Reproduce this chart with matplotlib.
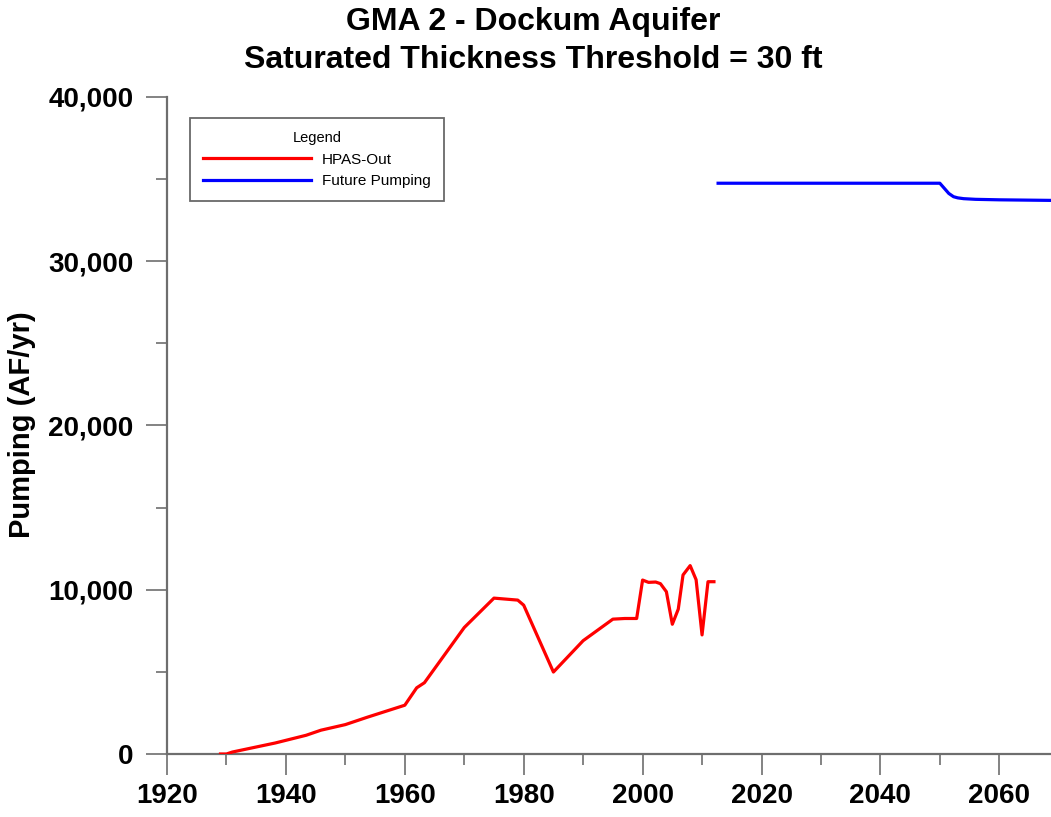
import matplotlib
matplotlib.use("Agg")
import matplotlib.pyplot as plt
from matplotlib.ticker import FuncFormatter, MultipleLocator

plt.rcParams["font.family"] = ["Liberation Sans", "DejaVu Sans"]

# HPAS-Out (historical pumping)
hist_years = [1929, 1930, 1931, 1938.2, 1943.4, 1945.9, 1950, 1953.7, 1960, 1962, 1963.3,
              1970, 1975, 1979, 1980, 1985, 1990, 1995, 1997, 1999, 2000, 2001, 2002.2,
              2003, 2004, 2005, 2006, 2006.8, 2008, 2009, 2010, 2011, 2012]
hist_pumping = [0, 0, 120, 670, 1140, 1450, 1790, 2240, 2970, 4030, 4340,
                7700, 9490, 9370, 9060, 4990, 6900, 8210, 8250, 8250, 10590, 10450, 10470,
                10370, 9880, 7900, 8820, 10900, 11470, 10610, 7250, 10490, 10490]

# Future pumping
future_years = [2012.7, 2050, 2050.8, 2051.5, 2052.3, 2053, 2054, 2056, 2060, 2070]
future_pumping = [34750, 34750, 34420, 34130, 33930, 33860, 33810, 33770, 33740, 33700]

x_ticks = list(range(1920, 2061, 20))
y_ticks = [0, 10000, 20000, 30000, 40000]

fig = plt.figure(figsize=(10.51, 8.17), dpi=100)
ax = fig.add_axes([167 / 1051, 63 / 817, 891.75 / 1051, 657 / 817])

ax.plot(hist_years, hist_pumping, color="#ff0000", lw=2.3, label="HPAS-Out",
        solid_joinstyle="round")
ax.plot(future_years, future_pumping, color="#0000ff", lw=2.3, label="Future Pumping",
        solid_joinstyle="round")

ax.set_xlim(1920, 2070)
ax.set_ylim(0, 40000)
ax.set_xticks(x_ticks)
ax.set_yticks(y_ticks)
ax.xaxis.set_minor_locator(MultipleLocator(10))
ax.yaxis.set_minor_locator(MultipleLocator(5000))
ax.yaxis.set_major_formatter(FuncFormatter(lambda v, p: f"{int(v):,}"))

axis_color = "#6e6e6e"
for side in ["top", "right"]:
    ax.spines[side].set_visible(False)
for side in ["left", "bottom"]:
    ax.spines[side].set_color(axis_color)
    ax.spines[side].set_linewidth(1.6)
    ax.spines[side].set_zorder(1)

ax.tick_params(axis="both", which="major", direction="out", length=15, width=1.2,
               color=axis_color, labelsize=20)
ax.tick_params(axis="both", which="minor", direction="out", length=8, width=1.2,
               color=axis_color)
ax.tick_params(axis="y", which="major", pad=9)
ax.tick_params(axis="x", which="major", pad=6)
for lab in ax.get_xticklabels() + ax.get_yticklabels():
    lab.set_fontweight("bold")

fig.text(22 / 1051, 1 - 425 / 817, "Pumping (AF/yr)", rotation=90, ha="center",
         va="center", fontsize=21, fontweight="bold")
fig.text(533 / 1051, 1 - 22 / 817, "GMA 2 - Dockum Aquifer", ha="center", va="center",
         fontsize=23, fontweight="bold")
fig.text(533 / 1051, 1 - 60 / 817, "Saturated Thickness Threshold = 30 ft", ha="center",
         va="center", fontsize=23, fontweight="bold")

leg = ax.legend(loc="upper left", bbox_to_anchor=((190 - 167) / 891.75, (754 - 118) / 657),
                title="Legend", fontsize=11, title_fontsize=10.5, frameon=True,
                fancybox=False, handlelength=7.1, handletextpad=0.7, labelspacing=0.5,
                borderpad=0.85, borderaxespad=0)
leg.get_frame().set_edgecolor("#444444")
leg.get_frame().set_linewidth(1.3)
for line in leg.get_lines():
    line.set_linewidth(2.3)

fig.savefig("out.png", dpi=100)
